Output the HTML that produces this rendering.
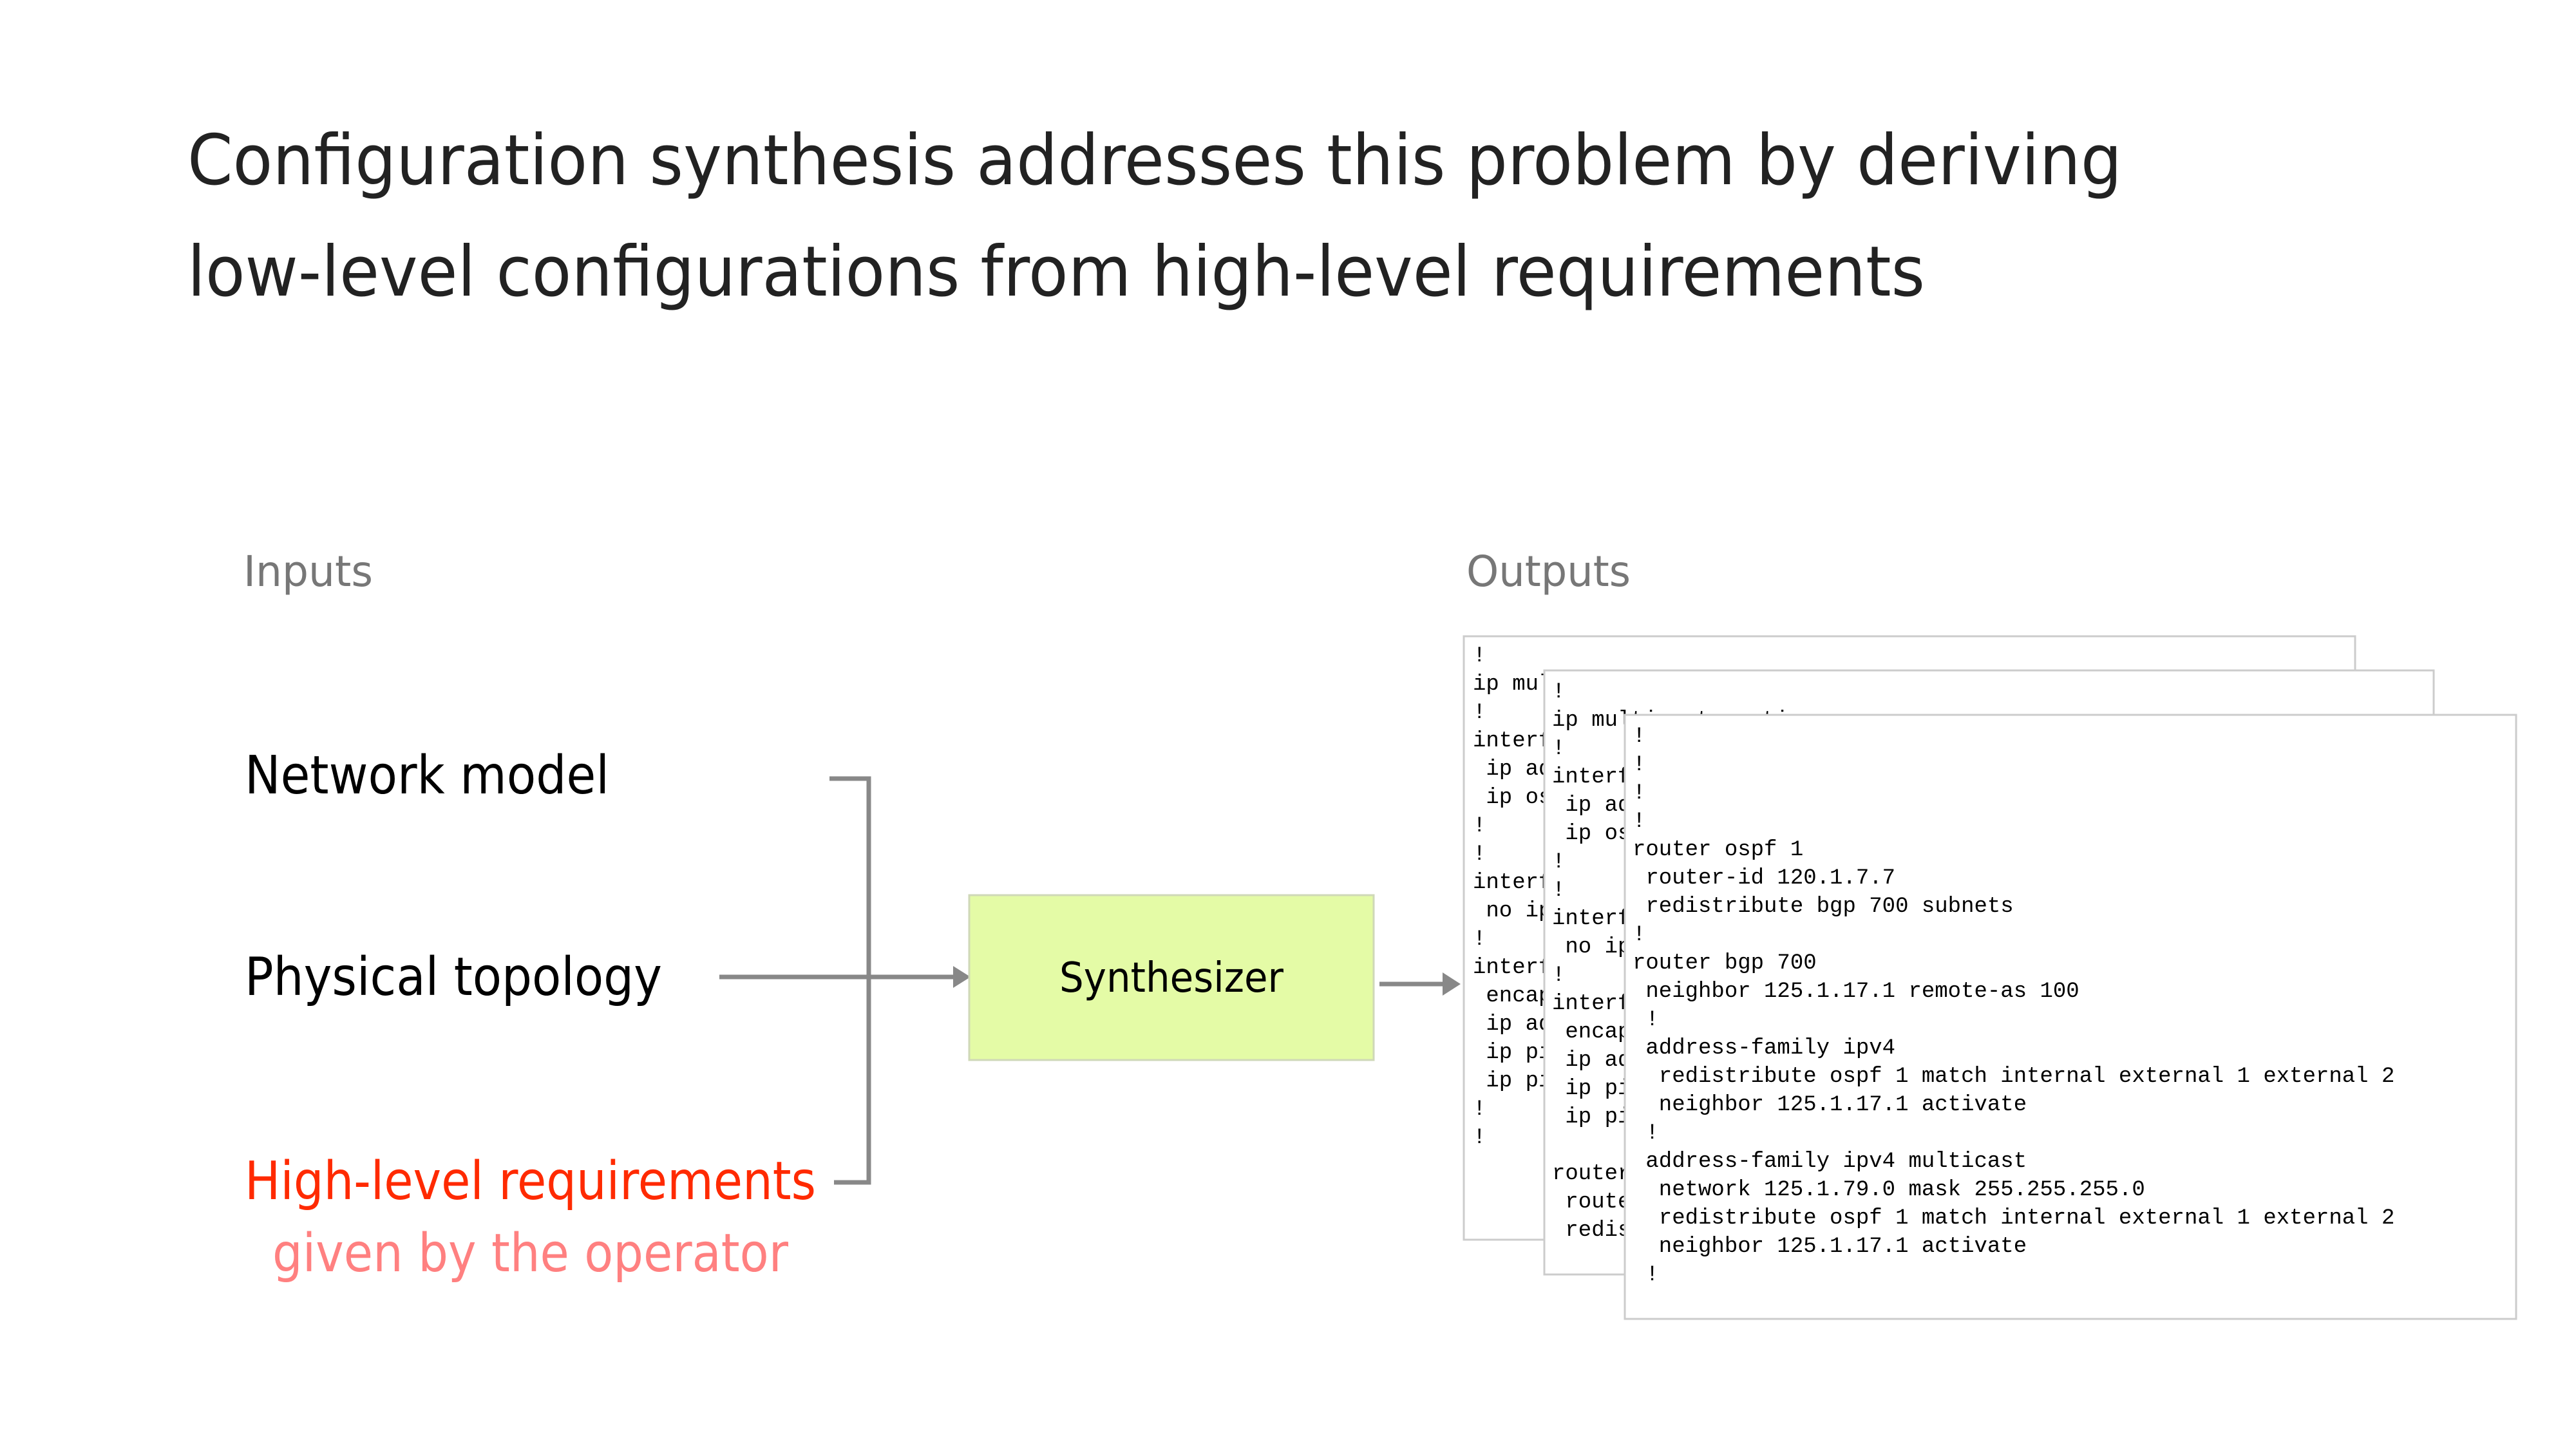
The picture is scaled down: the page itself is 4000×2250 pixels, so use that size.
<!DOCTYPE html>
<html><head><meta charset="utf-8"><style>
html,body{margin:0;padding:0;background:#fff;width:4000px;height:2250px;overflow:hidden}
svg{display:block}
.t{font-family:"DejaVu Sans","Liberation Sans",sans-serif}
.m{font-family:"Liberation Mono",monospace;font-size:34px;fill:#000;white-space:pre}
</style></head><body>
<svg width="4000" height="2250" viewBox="0 0 4000 2250" xmlns="http://www.w3.org/2000/svg">
<rect width="4000" height="2250" fill="#fff"/>
<text class="t" x="291" y="286" font-size="108" fill="#222" textLength="3004" lengthAdjust="spacingAndGlyphs">Configuration synthesis addresses this problem by deriving</text>
<text class="t" x="291" y="459" font-size="108" fill="#222" textLength="2698" lengthAdjust="spacingAndGlyphs">low-level configurations from high-level requirements</text>

<text class="t" x="378" y="910" font-size="66" fill="#777" textLength="201" lengthAdjust="spacingAndGlyphs">Inputs</text>
<text class="t" x="2277" y="910" font-size="66" fill="#777" textLength="255" lengthAdjust="spacingAndGlyphs">Outputs</text>

<text class="t" x="380" y="1232" font-size="82" fill="#000" textLength="566" lengthAdjust="spacingAndGlyphs">Network model</text>
<text class="t" x="380" y="1545" font-size="82" fill="#000" textLength="648" lengthAdjust="spacingAndGlyphs">Physical topology</text>
<text class="t" x="380" y="1862" font-size="82" fill="#ff2a00" textLength="887" lengthAdjust="spacingAndGlyphs">High-level requirements</text>
<text class="t" x="423" y="1974" font-size="82" fill="#ff8080" textLength="801" lengthAdjust="spacingAndGlyphs">given by the operator</text>

<g stroke="#888" stroke-width="7" fill="none">
<polyline points="1288,1209 1349,1209 1349,1836 1295,1836"/>
<line x1="1117" y1="1517" x2="1485" y2="1517"/>
<line x1="2142" y1="1528" x2="2245" y2="1528"/>
</g>
<polygon points="1480,1500 1507,1517 1480,1534" fill="#888"/>
<polygon points="2240,1510 2268,1528 2240,1546" fill="#888"/>

<rect x="1505" y="1390" width="628" height="256" fill="#e4fba6" stroke="#cfd8b8" stroke-width="3"/>
<text class="t" x="1819" y="1540" font-size="64" fill="#000" text-anchor="middle" textLength="348" lengthAdjust="spacingAndGlyphs">Synthesizer</text>

<rect x="2273" y="988" width="1384" height="937" fill="#fff" stroke="#ccc" stroke-width="3"/>
<text class="m" x="2287" y="1027">
<tspan x="2287" dy="0">!</tspan><tspan x="2287" dy="44">ip multicast-routing</tspan><tspan x="2287" dy="44">!</tspan><tspan x="2287" dy="44">interface Loopback0</tspan><tspan x="2287" dy="44"> ip address 120.1.7.7</tspan><tspan x="2287" dy="44"> ip ospf 1 area 0</tspan><tspan x="2287" dy="44">!</tspan><tspan x="2287" dy="44">!</tspan><tspan x="2287" dy="44">interface Ethernet0/0</tspan><tspan x="2287" dy="44"> no ip address</tspan><tspan x="2287" dy="44">!</tspan><tspan x="2287" dy="44">interface Ethernet0/1</tspan><tspan x="2287" dy="44"> encapsulation dot1Q</tspan><tspan x="2287" dy="44"> ip address 125.1.17.7</tspan><tspan x="2287" dy="44"> ip pim sparse-mode</tspan><tspan x="2287" dy="44"> ip pim bsr-border</tspan><tspan x="2287" dy="44">!</tspan><tspan x="2287" dy="44">!</tspan>
</text>

<rect x="2398" y="1041" width="1381" height="938" fill="#fff" stroke="#ccc" stroke-width="3"/>
<text class="m" x="2410" y="1083">
<tspan x="2410" dy="0">!</tspan><tspan x="2410" dy="44">ip multicast-routing</tspan><tspan x="2410" dy="44">!</tspan><tspan x="2410" dy="44">interface Loopback0</tspan><tspan x="2410" dy="44"> ip address 120.1.8.8</tspan><tspan x="2410" dy="44"> ip ospf 1 area 0</tspan><tspan x="2410" dy="44">!</tspan><tspan x="2410" dy="44">!</tspan><tspan x="2410" dy="44">interface Ethernet0/0</tspan><tspan x="2410" dy="44"> no ip address</tspan><tspan x="2410" dy="44">!</tspan><tspan x="2410" dy="44">interface Ethernet0/1</tspan><tspan x="2410" dy="44"> encapsulation dot1Q</tspan><tspan x="2410" dy="44"> ip address 125.1.18.8</tspan><tspan x="2410" dy="44"> ip pim sparse-mode</tspan><tspan x="2410" dy="44"> ip pim bsr-border</tspan><tspan x="2410" dy="44"> </tspan><tspan x="2410" dy="44">router ospf 1</tspan><tspan x="2410" dy="44"> router-id 120.1.8.8</tspan><tspan x="2410" dy="44"> redistribute bgp</tspan>
</text>

<rect x="2523" y="1110" width="1384" height="938" fill="#fff" stroke="#ccc" stroke-width="3"/>
<text class="m" x="2535" y="1152">
<tspan x="2535" dy="0">!</tspan><tspan x="2535" dy="44">!</tspan><tspan x="2535" dy="44">!</tspan><tspan x="2535" dy="44">!</tspan><tspan x="2535" dy="44">router ospf 1</tspan><tspan x="2535" dy="44"> router-id 120.1.7.7</tspan><tspan x="2535" dy="44"> redistribute bgp 700 subnets</tspan><tspan x="2535" dy="44">!</tspan><tspan x="2535" dy="44">router bgp 700</tspan><tspan x="2535" dy="44"> neighbor 125.1.17.1 remote-as 100</tspan><tspan x="2535" dy="44"> !</tspan><tspan x="2535" dy="44"> address-family ipv4</tspan><tspan x="2535" dy="44">  redistribute ospf 1 match internal external 1 external 2</tspan><tspan x="2535" dy="44">  neighbor 125.1.17.1 activate</tspan><tspan x="2535" dy="44"> !</tspan><tspan x="2535" dy="44"> address-family ipv4 multicast</tspan><tspan x="2535" dy="44">  network 125.1.79.0 mask 255.255.255.0</tspan><tspan x="2535" dy="44">  redistribute ospf 1 match internal external 1 external 2</tspan><tspan x="2535" dy="44">  neighbor 125.1.17.1 activate</tspan><tspan x="2535" dy="44"> !</tspan>
</text>
</svg>
</body></html>
